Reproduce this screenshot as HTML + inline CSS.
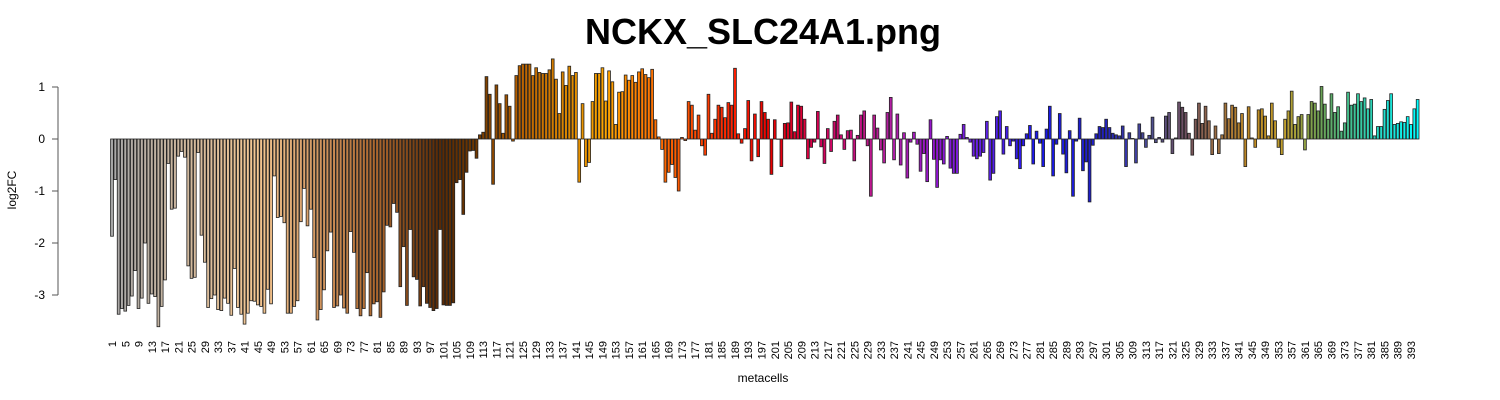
<!DOCTYPE html>
<html><head><meta charset="utf-8"><style>
html,body{margin:0;padding:0;background:#fff;}
svg{display:block;font-family:"Liberation Sans",Arial,sans-serif;}
</style></head><body>
<svg id="chart" width="1500" height="400" viewBox="0 0 1500 400">
<text x="763" y="44" text-anchor="middle" font-size="36" font-weight="bold">NCKX_SLC24A1.png</text>
<text transform="translate(16,190) rotate(-90)" text-anchor="middle" font-size="12">log2FC</text>
<text x="763" y="382" text-anchor="middle" font-size="12">metacells</text>
<g id="yaxis"></g>
<g id="bars"></g>
<g id="xlabels"></g>
</svg>
<script>
const values = [
-1.87,-0.78,-3.37,-3.26,-3.31,-3.2,-3.02,-2.53,-3.26,-3.06,-2.0,-3.16,-2.98,-3.03,-3.61,-3.22,-2.71,-0.47,-1.35,-1.33,
-0.33,-0.24,-0.35,-2.44,-2.68,-2.66,-0.26,-1.85,-2.37,-3.24,-3.07,-3.0,-3.28,-3.3,-3.06,-3.16,-3.39,-2.49,-3.24,-3.37,
-3.56,-3.35,-3.11,-3.12,-3.19,-3.22,-3.35,-2.89,-3.17,-0.71,-1.51,
-1.49,-1.61,-3.35,-3.35,-3.22,-3.11,-1.59,-0.95,-1.67,-1.35,-2.28,-3.48,-3.28,-2.9,-2.15,-1.79,-3.24,-3.21,-3.0,-3.25,
-3.35,-1.78,-2.18,-3.26,-3.4,-3.26,-2.57,-3.4,-3.17,-3.13,-3.43,-2.94,-1.66,-1.69,-1.24,-1.41,-2.84,-2.07,-3.2,-1.74,
-2.65,-2.7,-3.21,-2.84,-3.16,-3.24,-3.3,-3.26,-1.74,-3.19,-3.2,-3.2,-3.15,
-0.84,-0.78,-1.45,-0.64,-0.23,-0.22,-0.37,0.08,0.13,1.2,0.86,-0.87,1.04,0.68,0.11,0.85,0.63,-0.04,1.22,1.41,
1.44,1.44,1.44,1.22,1.37,1.28,1.26,1.26,1.33,1.54,1.15,0.49,1.29,1.03,1.4,1.22,1.28,-0.83,0.68,-0.53,
-0.45,0.72,1.26,1.26,1.37,0.73,1.31,1.1,0.28,0.9,0.91,1.23,1.13,1.22,
1.09,1.29,1.35,1.24,1.18,1.34,0.37,0.04,-0.2,-0.83,-0.64,-0.49,-0.74,-1.0,0.03,-0.03,0.72,0.65,0.17,0.46,
-0.13,-0.31,0.86,0.11,0.38,0.65,0.61,0.41,0.7,0.65,1.36,0.1,-0.08,0.2,0.74,-0.42,0.48,-0.34,0.72,
0.51,0.38,-0.68,0.37,0.0,-0.53,0.3,0.31,0.71,0.14,0.65,0.63,0.38,-0.38,-0.16,-0.06,0.53,-0.15,-0.47,0.2,
-0.24,0.34,0.46,0.08,-0.2,0.16,0.17,-0.42,0.07,0.46,0.54,-0.13,-1.1,0.46,0.21,-0.21,-0.46,0.51,0.8,-0.4,
0.48,-0.5,0.12,-0.75,-0.06,0.13,-0.1,-0.62,-0.28,-0.82,0.37,-0.39,-0.93,-0.4,-0.48,0.05,-0.56,-0.66,-0.66,0.09,
0.28,0.03,-0.06,-0.33,-0.38,-0.33,-0.26,0.34,-0.79,-0.66,0.43,0.54,-0.29,0.24,-0.13,-0.04,-0.38,-0.57,-0.13,
0.1,0.26,-0.48,0.15,-0.08,-0.53,0.19,0.63,-0.71,-0.1,0.49,-0.29,-0.65,0.16,-1.1,-0.04,0.4,-0.61,-0.44,-1.21,
-0.12,0.1,0.24,0.22,0.38,0.22,0.11,0.08,0.06,0.25,-0.53,0.12,0.01,-0.46,0.29,0.12,-0.16,0.07,0.42,-0.07,
0.03,-0.06,0.44,0.51,-0.28,0.02,0.71,0.61,0.51,0.11,-0.31,0.38,0.69,0.3,0.63,0.35,-0.3,0.25,-0.28,
0.08,0.69,0.39,0.65,0.61,0.31,0.49,-0.53,0.62,0.02,-0.16,0.56,0.58,0.44,0.06,0.69,0.35,-0.16,-0.3,0.38,
0.54,0.92,0.28,0.43,0.47,-0.21,0.47,0.72,0.69,0.54,1.01,0.67,0.38,0.87,0.51,0.62,0.15,0.31,0.9,0.65,
0.67,0.87,0.72,0.79,0.58,0.76,0.06,0.24,0.24,0.57,0.74,0.87,0.28,0.3,0.33,0.32,0.43,0.28,0.58,0.76
];
const yTicks = [1,0,-1,-2,-3];
const NS="http://www.w3.org/2000/svg";
const x0=112, dx=(1411-112)/392, bw=dx/1.2;
function xPos(i){return x0+i*dx;}
function yPos(v){return 139-v*52;}
const stops=[[1,[168,168,168]],[45,[245,199,146]],[60,[217,160,106]],[80,[176,106,48]],[100,[90,42,5]],[110,[110,55,0]],[125,[190,100,0]],[140,[225,140,0]],[150,[255,165,0]],[160,[255,127,0]],[175,[255,80,0]],[190,[255,26,0]],[200,[235,0,0]],[215,[215,0,90]],[235,[180,30,160]],[250,[145,20,210]],[262,[106,32,232]],[280,[24,24,240]],[300,[32,32,192]],[315,[80,80,144]],[325,[112,80,96]],[335,[160,112,64]],[345,[192,138,32]],[355,[192,160,48]],[365,[112,160,80]],[375,[64,192,144]],[385,[32,224,208]],[395,[0,255,255]]];
function color(n){
  for(let k=0;k<stops.length-1;k++){
    const a=stops[k],b=stops[k+1];
    if(n>=a[0]&&n<=b[0]){const t=(n-a[0])/(b[0]-a[0]);
      return 'rgb('+a[1].map((c,j)=>Math.round(c+(b[1][j]-c)*t)).join(',')+')';}
  }
  return 'rgb(0,255,255)';
}
const yg=document.getElementById('yaxis');
const al=document.createElementNS(NS,'line');
al.setAttribute('x1',58);al.setAttribute('x2',58);al.setAttribute('y1',yPos(1));al.setAttribute('y2',yPos(-3));
al.setAttribute('stroke','#555');


yg.appendChild(al);
yTicks.forEach(v=>{
  const t=document.createElementNS(NS,'line');
  t.setAttribute('x1',52);t.setAttribute('x2',58);t.setAttribute('y1',yPos(v));t.setAttribute('y2',yPos(v));t.setAttribute('stroke','#555');
  
  
  yg.appendChild(t);
  const l=document.createElementNS(NS,'text');
  l.setAttribute('x',45);l.setAttribute('y',yPos(v)+4);l.setAttribute('text-anchor','end');l.setAttribute('font-size','12');
  l.textContent=String(v);
  
  
  yg.appendChild(l);
});
const bg=document.getElementById('bars');
values.forEach((v,i)=>{
  const r=document.createElementNS(NS,'rect');
  const y1=yPos(Math.max(v,0)), y2=yPos(Math.min(v,0));
  r.setAttribute('x',(xPos(i)-bw/2).toFixed(2));
  r.setAttribute('y',y1.toFixed(2));
  r.setAttribute('width',bw.toFixed(2));
  r.setAttribute('height',Math.max(y2-y1,0.3).toFixed(2));
  r.setAttribute('fill',color(i+1));
  r.setAttribute('stroke','#222');
  r.setAttribute('stroke-width','0.8');
  
  
  bg.appendChild(r);
});
const xg=document.getElementById('xlabels');
for(let i=0;i<values.length;i+=4){
  const t=document.createElementNS(NS,'text');
  const x=xPos(i)+4;
  t.setAttribute('transform','translate('+x.toFixed(2)+',341) rotate(-90)');
  t.setAttribute('text-anchor','end');
  t.setAttribute('font-size','11');
  t.textContent=String(i+1);
  
  
  xg.appendChild(t);
}
</script>
</body></html>
